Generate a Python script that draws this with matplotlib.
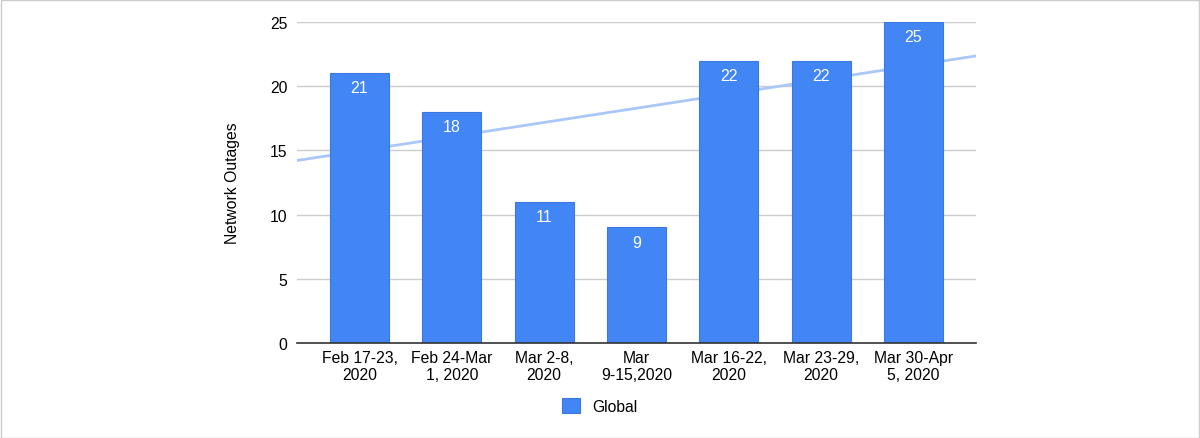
import numpy as np
import matplotlib.pyplot as plt
from matplotlib.patches import Rectangle

plt.rcParams['font.family'] = ['Liberation Sans', 'DejaVu Sans']

weeks = ["Feb 17-23,\n2020", "Feb 24-Mar\n1, 2020", "Mar 2-8,\n2020", "Mar\n9-15,2020",
         "Mar 16-22,\n2020", "Mar 23-29,\n2020", "Mar 30-Apr\n5, 2020"]
outages = [21, 18, 11, 9, 22, 22, 25]

fig = plt.figure(figsize=(12, 4.39), dpi=100)
ax = fig.add_axes([0.2475, 0.2164, 0.5658, 0.7312])

x = np.arange(len(weeks))
xlim = (-0.677, 6.677)

# linear trendline behind the bars
k, b = np.polyfit(x, outages, 1)
tx = np.array(xlim)
ax.plot(tx, k * tx + b, color='#a9c8f9', lw=2, zorder=1)

bars = ax.bar(x, outages, width=0.64, color='#4285f4', edgecolor='#3b78e0',
              linewidth=0.8, zorder=2, label='Global')
for xi, v in zip(x, outages):
    ax.annotate(str(v), (xi, v), xytext=(0, -10.5), textcoords='offset points',
                ha='center', va='center', color='white', fontsize=11.5, zorder=3)

ax.set_xlim(*xlim)
ax.set_ylim(0, 25)
ax.set_yticks([0, 5, 10, 15, 20, 25])
ax.set_xticks(x)
ax.set_xticklabels(weeks, fontsize=11.3, linespacing=1.15)
ax.tick_params(axis='y', labelsize=11.3, length=0, pad=7)
ax.tick_params(axis='x', length=0, pad=5)
ax.grid(axis='y', color='#cccccc', lw=1, zorder=0)
ax.set_axisbelow(True)
for s in ['top', 'right', 'left']:
    ax.spines[s].set_visible(False)
ax.spines['bottom'].set_color('#333333')
ax.spines['bottom'].set_linewidth(1.2)
ax.spines['bottom'].set_zorder(4)
ax.set_ylabel('Network Outages', fontsize=11.3, labelpad=21)

fig.legend(handles=[bars], labels=['Global'], loc='center', bbox_to_anchor=(0.5, 0.073),
           frameon=False, fontsize=11.3, handlelength=1.1, handleheight=1.1, handletextpad=0.8)

fig.patches.append(Rectangle((0.0008, 0.001), 0.9984, 0.997, transform=fig.transFigure,
                             fill=False, edgecolor='#cccccc', lw=1))

fig.savefig('out.png', dpi=100)
